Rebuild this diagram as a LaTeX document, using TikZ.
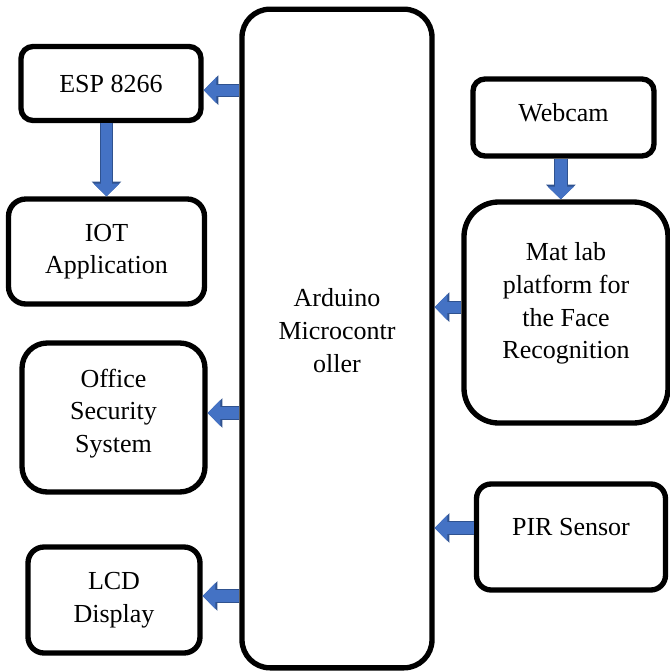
\documentclass[tikz,border=0pt]{standalone}
\usepackage{fontspec}
\setmainfont{Liberation Serif}
\usetikzlibrary{arrows.meta}
\definecolor{arrowfill}{HTML}{4472C4}
\definecolor{arrowedge}{HTML}{2F528F}
\tikzset{
  blockbox/.style={draw, line width=4pt, align=center, inner sep=2pt,
    font=\fontsize{19.5}{24.5}\selectfont},
  blk/.style={draw=arrowfill, line width=8.5pt, -{Triangle[width=19pt,length=9.5pt]},
    preaction={draw=arrowedge, line width=10pt, -{Triangle[width=21.5pt,length=11pt]}}}
}
\begin{document}
\begin{tikzpicture}[x=0.75pt,y=-0.75pt]
\useasboundingbox (0,0) rectangle (670,672);
\node[blockbox, rounded corners=21pt, minimum width=142.5pt, minimum height=494pt, text depth=12pt] (arduino) at (337,338.5) {Arduino\\Microcontr\\oller};
\node[blockbox, rounded corners=9pt, minimum width=135pt, minimum height=55.5pt] (esp) at (111,83.5) {ESP 8266};
\node[blockbox, rounded corners=13pt, minimum width=147pt, minimum height=78.75pt] (iot) at (106.5,251.5) {IOT\\Application};
\node[blockbox, rounded corners=19pt, minimum width=137.25pt, minimum height=111.75pt, text depth=10pt] (office) at (113.5,417.5) {Office\\Security\\System};
\node[blockbox, rounded corners=12pt, minimum width=129pt, minimum height=79.5pt] (lcd) at (114,600) {LCD\\Display};
\node[blockbox, rounded corners=9pt, minimum width=135.75pt, minimum height=57.75pt, text depth=7.5pt] (webcam) at (563.5,117.5) {Webcam};
\node[blockbox, rounded corners=26pt, minimum width=153pt, minimum height=165.75pt, text depth=17.5pt] (matlab) at (566,312.5) {Mat lab\\platform for\\the Face\\Recognition};
\node[blockbox, rounded corners=11pt, minimum width=141.75pt, minimum height=79.5pt, text depth=15pt] (pir) at (571,537) {PIR Sensor};
% arrows
\draw[blk] ([yshift=-5pt]esp.east -| arduino.west) -- ([yshift=-5pt]esp.east);
\draw[blk] (esp.south -| iot.north) -- (iot.north);
\draw[blk] ([yshift=3.4pt]office.east -| arduino.west) -- ([yshift=3.4pt]office.east);
\draw[blk] ([yshift=3pt]lcd.east -| arduino.west) -- ([yshift=3pt]lcd.east);
\draw[blk] ([xshift=-2pt]webcam.south) -- ([xshift=-2pt]webcam.south |- matlab.north);
\draw[blk] ([yshift=4pt]matlab.west) -- ([yshift=4pt]matlab.west -| arduino.east);
\draw[blk] ([yshift=6.75pt]pir.west) -- ([yshift=6.75pt]pir.west -| arduino.east);
\end{tikzpicture}
\end{document}
